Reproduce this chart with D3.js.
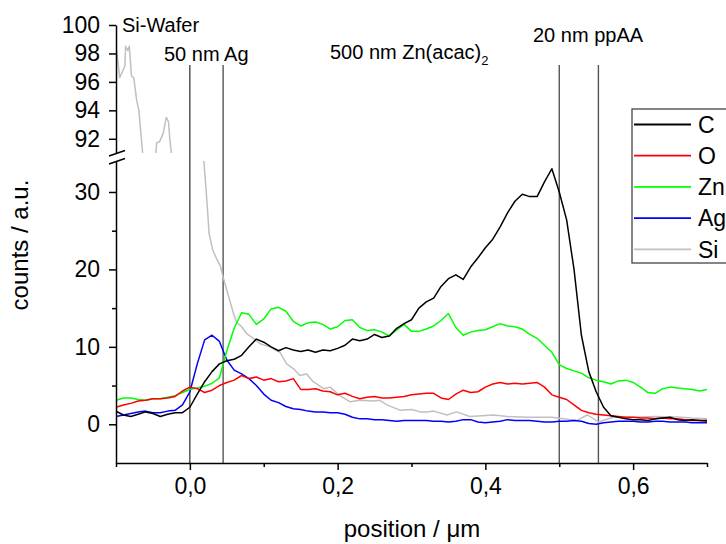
<!DOCTYPE html>
<html>
<head>
<meta charset="utf-8">
<script src="https://cdn.jsdelivr.net/npm/d3@7"></script>
<style>
body { margin: 0; background: #fff; }
svg text { font-family: Arial, "Liberation Sans", sans-serif; fill: #000; }
</style>
</head>
<body>
<div class="container"></div>
<script>
// depth profile, counts vs position (um)
const position = [
  -0.10,-0.09,-0.08,-0.07,-0.06,-0.05,-0.04,-0.03,-0.02,-0.01,
  0.00,0.01,0.02,0.03,0.04,0.05,0.06,0.07,0.08,0.09,
  0.10,0.11,0.12,0.13,0.14,0.15,0.16,0.17,0.18,0.19,
  0.20,0.21,0.22,0.23,0.24,0.25,0.26,0.27,0.28,0.29,
  0.30,0.31,0.32,0.33,0.34,0.35,0.36,0.37,0.38,0.39,
  0.40,0.41,0.42,0.43,0.44,0.45,0.46,0.47,0.48,0.49,
  0.50,0.51,0.52,0.53,0.54,0.55,0.56,0.57,0.58,0.59,
  0.60,0.61,0.62,0.63,0.64,0.65,0.66,0.67,0.68,0.69,
  0.70
];

const carbon = [
  1.7,1.2,1.0,1.3,1.6,1.4,1.0,1.3,1.5,1.5,
  2.2,3.9,5.5,6.8,7.8,8.2,8.4,8.9,10.0,11.0,
  10.6,10.0,9.5,9.9,9.6,9.4,9.6,9.3,9.6,9.5,
  9.8,10.2,11.0,10.8,11.0,11.6,11.2,11.4,12.4,13.0,
  13.5,15.0,15.8,16.3,17.8,18.8,19.3,18.7,20.3,21.5,
  22.8,23.9,25.5,27.3,28.8,29.7,29.4,29.4,31.3,33.0,
  30.0,26.4,20.0,11.5,6.8,4.2,2.2,1.1,0.9,0.7,
  0.6,0.6,0.5,0.7,0.8,0.9,0.6,0.5,0.6,0.5,
  0.5
];

const oxygen = [
  2.2,2.5,2.7,3.0,3.1,3.3,3.3,3.4,3.6,4.3,
  4.8,4.6,4.1,4.4,5.0,5.4,5.7,6.3,5.9,6.1,
  5.7,5.9,5.5,5.6,5.9,4.5,4.5,4.6,4.3,4.2,
  3.8,4.0,3.6,3.3,3.5,3.6,3.4,3.4,3.5,3.6,
  3.8,3.9,4.0,4.0,3.4,3.2,3.9,4.4,4.1,4.2,
  4.8,5.2,5.4,5.2,5.3,5.2,5.3,5.4,4.8,3.8,
  3.5,3.2,2.5,1.8,1.5,1.3,1.2,1.1,1.0,0.9,
  0.9,0.8,0.8,0.7,0.8,0.7,0.7,0.6,0.5,0.5,
  0.4
];

const zinc = [
  3.1,3.4,3.4,3.2,3.1,3.3,3.3,3.5,3.7,4.1,
  4.5,4.7,4.9,5.3,6.0,9.5,12.4,14.4,14.2,12.9,
  13.6,14.9,15.1,14.6,13.3,12.7,13.1,13.2,12.9,12.3,
  12.6,13.4,13.5,12.5,12.1,12.2,11.9,11.4,12.2,12.9,
  12.0,12.0,12.3,12.7,13.4,14.3,12.5,11.5,11.9,12.1,
  12.2,12.6,13.0,12.7,12.6,12.3,11.6,11.1,10.2,9.3,
  7.7,7.2,6.9,6.6,6.0,5.7,5.5,5.2,5.6,5.7,
  5.4,4.8,4.1,4.0,4.6,4.8,4.7,4.6,4.5,4.3,
  4.5
];

const silver = [
  1.0,1.2,1.4,1.6,1.7,1.5,1.5,1.7,1.8,2.5,
  4.2,7.8,10.9,11.5,10.7,8.3,7.0,6.5,5.9,5.0,
  3.9,3.1,2.8,2.3,2.0,1.9,1.7,1.6,1.6,1.5,
  1.5,1.3,0.9,0.7,0.7,0.6,0.6,0.5,0.4,0.5,
  0.5,0.5,0.5,0.4,0.4,0.3,0.4,0.6,0.6,0.3,
  0.2,0.3,0.4,0.6,0.5,0.5,0.5,0.4,0.3,0.3,
  0.4,0.4,0.5,0.4,0.1,0.0,0.2,0.3,0.4,0.4,
  0.4,0.3,0.3,0.4,0.4,0.3,0.3,0.3,0.2,0.2,
  0.2
];

// Si is sampled finer near the wafer
const siPosition = [
  -0.099,-0.095,-0.088,-0.087,-0.084,-0.082,-0.079,-0.076,-0.072,-0.069,
  -0.064,-0.060,-0.050,-0.046,-0.045,-0.041,-0.036,-0.032,-0.029,-0.027,
  -0.025,-0.020,-0.010,0.000,0.010,0.019,0.023,0.026,0.031,0.036,
  0.041,0.045,0.050,0.054,0.059,0.063,0.070,0.077,0.086,0.095,
  0.108,0.122,0.131,0.140,0.149,0.158,0.167,0.181,0.190,0.203,
  0.217,0.230,0.248,0.257,0.267,0.285,0.300,0.312,0.321,0.330,
  0.348,0.361,0.379,0.411,0.430,0.456,0.490,0.524,0.538,0.553,
  0.573,0.600,0.630,0.660,0.680,0.700
];
const silicon = [
  98.2,96.3,97.1,98.5,98.2,98.5,96.4,96.3,94.7,94.0,
  91.0,89.0,89.0,91.0,91.7,91.8,92.4,93.5,93.2,91.9,
  91.0,85.0,70.0,55.0,42.0,33.9,28.9,24.6,22.5,21.4,
  20.5,19.0,17.3,16.0,14.3,13.2,12.6,11.7,11.1,10.4,
  10.0,9.3,7.8,7.2,6.3,6.5,5.5,4.6,4.8,3.7,
  2.9,3.1,3.0,3.1,2.5,1.8,1.9,1.6,1.6,1.7,
  1.2,1.6,1.0,1.2,1.0,0.9,0.9,0.5,1.2,0.3,
  0.9,0.9,1.0,0.95,0.8,0.7
];

const elements = ["C", "O", "Zn", "Ag", "Si"];
const colors = ["#000000", "#ff0000", "#00ff00", "#0000ff", "#c0c0c0"];

const interfaces = [0, 0.045, 0.5, 0.553];
const xTicks = [0, 0.2, 0.4, 0.6];
const xMinor = [-0.1, 0.1, 0.3, 0.5, 0.7];
const lowTicks = [0, 10, 20, 30];
const lowMinor = [5, 15, 25];
const highTicks = [92, 94, 96, 98, 100];

const width = 726, height = 544;

const svg = d3.select(".container")
    .append("svg")
    .attr("width", width)
    .attr("height", height)
    .style("background", "#fff");

const x = d3.scaleLinear().domain([-0.1, 0.7]).range([116, 707]);
const yLow = d3.scaleLinear().domain([-5, 34]).range([463, 161]);
const yHigh = d3.scaleLinear().domain([91, 100]).range([153, 25]);

const comma = d3.formatLocale({decimal: ",", thousands: ".", grouping: [3], currency: ["", ""]}).format(".1f");

svg.append("clipPath").attr("id", "clip-low")
    .append("rect").attr("x", 116).attr("y", 161).attr("width", 591).attr("height", 302);
svg.append("clipPath").attr("id", "clip-high")
    .append("rect").attr("x", 116).attr("y", 25).attr("width", 591).attr("height", 128);

// interface lines
svg.selectAll(".interface")
    .data(interfaces)
    .join("line")
    .classed("interface", true)
    .attr("x1", d => x(d))
    .attr("x2", d => x(d))
    .attr("y1", 65)
    .attr("y2", yLow(-5))
    .attr("stroke", (d, i) => i == 0 ? "#000" : "#555")
    .attr("stroke-width", (d, i) => i == 0 ? 1 : 1.4);

const series = [
    {name: "Si", xs: siPosition, ys: silicon},
    {name: "Ag", xs: position, ys: silver},
    {name: "Zn", xs: position, ys: zinc},
    {name: "O", xs: position, ys: oxygen},
    {name: "C", xs: position, ys: carbon}
];

const lineLow = d3.line().x(d => x(d[0])).y(d => yLow(d[1]));
const lineHigh = d3.line().x(d => x(d[0])).y(d => yHigh(d[1]));

svg.append("g").attr("clip-path", "url(#clip-low)")
    .selectAll("path")
    .data(series)
    .join("path")
    .attr("d", d => lineLow(d3.zip(d.xs, d.ys)))
    .attr("fill", "none")
    .attr("stroke", d => colors[elements.indexOf(d.name)])
    .attr("stroke-width", 1.5)
    .attr("stroke-linejoin", "round");

svg.append("g").attr("clip-path", "url(#clip-high)")
    .append("path")
    .attr("d", lineHigh(d3.zip(siPosition, silicon)))
    .attr("fill", "none")
    .attr("stroke", colors[4])
    .attr("stroke-width", 1.5)
    .attr("stroke-linejoin", "round");

// axes
function styleAxis(g, size) {
    g.attr("font-family", "Arial, 'Liberation Sans', sans-serif").attr("font-size", size);
    g.selectAll("path, line").attr("stroke", "#000").attr("stroke-width", 1.5);
    g.selectAll("text").attr("fill", "#000");
}

svg.append("g")
    .attr("transform", `translate(0, ${yLow(-5)})`)
    .call(d3.axisBottom(x).tickValues(xTicks).tickFormat(comma).tickSize(7).tickSizeOuter(0).tickPadding(8))
    .call(g => styleAxis(g, 23));

svg.append("g")
    .attr("transform", `translate(0, ${yLow(-5)})`)
    .call(d3.axisBottom(x).tickValues(xMinor).tickFormat("").tickSize(4).tickSizeOuter(0))
    .call(g => styleAxis(g, 23))
    .call(g => g.select(".domain").remove());

svg.append("g")
    .attr("transform", `translate(${x(-0.1)}, 0)`)
    .call(d3.axisLeft(yLow).tickValues(lowTicks).tickSize(7).tickSizeOuter(0).tickPadding(9))
    .call(g => styleAxis(g, 23));

svg.append("g")
    .attr("transform", `translate(${x(-0.1)}, 0)`)
    .call(d3.axisLeft(yLow).tickValues(lowMinor).tickFormat("").tickSize(4).tickSizeOuter(0))
    .call(g => styleAxis(g, 23))
    .call(g => g.select(".domain").remove());

svg.append("g")
    .attr("transform", `translate(${x(-0.1)}, 0)`)
    .call(d3.axisLeft(yHigh).tickValues(highTicks).tickSize(7).tickSizeOuter(0).tickPadding(9))
    .call(g => styleAxis(g, 23));

// axis break marks
svg.selectAll(".break")
    .data([yHigh(91), yLow(34)])
    .join("line")
    .classed("break", true)
    .attr("x1", 109)
    .attr("y1", d => d + 3)
    .attr("x2", 125)
    .attr("y2", d => d - 2.5)
    .attr("stroke", "#000")
    .attr("stroke-width", 1.5);

// axis titles
svg.append("text")
    .text("position / \u03bcm")
    .attr("x", 412)
    .attr("y", 537)
    .attr("text-anchor", "middle")
    .attr("font-size", 24);

svg.append("text")
    .text("counts / a.u.")
    .attr("transform", "translate(28, 245) rotate(-90)")
    .attr("text-anchor", "middle")
    .attr("font-size", 24);

// layer annotations
svg.append("text").text("Si-Wafer").attr("x", 122).attr("y", 32).attr("font-size", 20);
svg.append("text").text("50 nm Ag").attr("x", 164).attr("y", 61).attr("font-size", 20);
svg.append("text").text("20 nm ppAA").attr("x", 533).attr("y", 41.5).attr("font-size", 20);
const zn = svg.append("text").attr("x", 330).attr("y", 58.5).attr("font-size", 20);
zn.append("tspan").text("500 nm Zn(acac)");
zn.append("tspan").text("2").attr("font-size", 13).attr("dy", 6);

// legend
const legend = svg.append("g").attr("transform", "translate(632, 109)");
legend.append("rect")
    .attr("width", 130)
    .attr("height", 154)
    .attr("fill", "#fff")
    .attr("stroke", "#444")
    .attr("stroke-width", 1.3);

const entry = legend.selectAll(".entry")
    .data(elements)
    .join("g")
    .classed("entry", true)
    .attr("transform", (d, i) => `translate(0, ${15.5 + i * 31.2})`);

entry.append("line")
    .attr("x1", 2)
    .attr("x2", 59)
    .attr("stroke", (d, i) => colors[i])
    .attr("stroke-width", 1.8);

entry.append("text")
    .text(d => d)
    .attr("x", 66)
    .attr("dy", "0.36em")
    .attr("font-size", 23);
</script>
</body>
</html>
